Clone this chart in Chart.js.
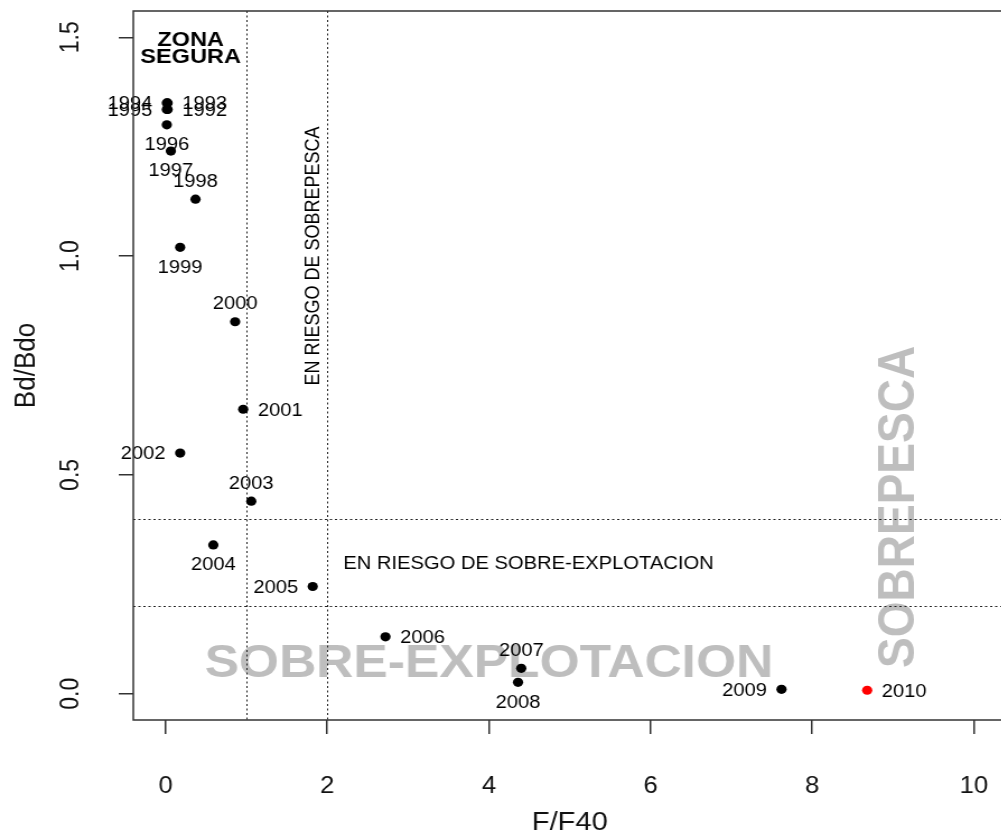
<!DOCTYPE html>
<html>
<head>
<meta charset="utf-8">
<script src="https://cdn.jsdelivr.net/npm/chart.js@4.4.1/dist/chart.umd.min.js"></script>
<style>
html,body{margin:0;padding:0;overflow:hidden;background:#fff;width:1001px;height:832px;}
#wrap{position:absolute;left:0;top:0;width:903px;height:832px;transform:scaleX(1.12);transform-origin:0 0;}
canvas{display:block;}
</style>
</head>
<body>
<div id="wrap"><canvas id="c" width="903" height="832"></canvas></div>
<script>
// ---- data ----
const years  = [1992, 1993, 1994, 1995, 1996, 1997, 1998, 1999, 2000, 2001, 2002, 2003, 2004, 2005, 2006, 2007, 2008, 2009, 2010];
const fRatio = [0.025, 0.025, 0.015, 0.015, 0.015, 0.065, 0.37, 0.18, 0.86, 0.96, 0.18, 1.06, 0.59, 1.82, 2.72, 4.40, 4.36, 7.62, 8.68];
const bRatio = [1.335, 1.350, 1.350, 1.335, 1.300, 1.240, 1.130, 1.020, 0.850, 0.650, 0.550, 0.440, 0.340, 0.245, 0.130, 0.058, 0.026, 0.010, 0.008];
// R text() "pos" codes: 1 below, 2 left, 3 above, 4 right
const labelPos = [4, 4, 2, 2, 1, 1, 3, 1, 3, 4, 2, 3, 1, 2, 4, 3, 1, 2, 4];
const xTicks = [0, 2, 4, 6, 8, 10];
const xTickLabels = ['0', '2', '4', '6', '8', '10'];
const yTicks = [0, 0.5, 1, 1.5];
const yTickLabels = ['0.0', '0.5', '1.0', '1.5'];
const fRefLines = [1, 2];
const bRefLines = [0.2, 0.4];
const xTitle = 'F/F40';
const yTitle = 'Bd/Bdo';
const currentYear = 2010;

const FONT = '"Liberation Sans", Arial, Helvetica, sans-serif';

function capText(ctx, txt, x, y, size, rot) {
  // draws text centred (both ways) on x,y using cap height
  ctx.save();
  ctx.translate(x, y);
  if (rot) ctx.rotate(rot);
  ctx.textAlign = 'center';
  ctx.textBaseline = 'alphabetic';
  ctx.fillText(txt, 0, 0.716 * size / 2);
  ctx.restore();
}

const rPlot = {
  id: 'rPlot',
  beforeDatasetsDraw(chart) {
    const {ctx, chartArea: a, scales: {x, y}} = chart;
    ctx.save();
    ctx.beginPath(); ctx.rect(a.left, a.top, a.width, a.height); ctx.clip();
    // large grey zone labels
    ctx.fillStyle = '#BEBEBE';
    ctx.font = `bold 46px ${FONT}`;
    capText(ctx, 'SOBRE-EXPLOTACION', x.getPixelForValue(4.0), y.getPixelForValue(0.076), 46);
    capText(ctx, 'SOBREPESCA', x.getPixelForValue(9.03), y.getPixelForValue(0.427), 46, -Math.PI / 2);
    // dotted reference lines
    ctx.strokeStyle = '#222';
    ctx.lineWidth = 1;
    ctx.setLineDash([2, 2.5]);
    fRefLines.forEach(v => {
      const px = Math.round(x.getPixelForValue(v)) + 0.5;
      ctx.beginPath(); ctx.moveTo(px, a.top); ctx.lineTo(px, a.bottom); ctx.stroke();
    });
    bRefLines.forEach(v => {
      const py = Math.round(y.getPixelForValue(v)) + 0.5;
      ctx.beginPath(); ctx.moveTo(a.left, py); ctx.lineTo(a.right, py); ctx.stroke();
    });
    ctx.restore();
  },
  afterDatasetsDraw(chart) {
    const {ctx, scales: {x, y}} = chart;
    ctx.save();
    ctx.fillStyle = '#000';
    // year labels
    const fs = 18;
    ctx.font = `${fs}px ${FONT}`;
    const meta = chart.getDatasetMeta(0);
    meta.data.forEach((pt, i) => {
      const t = String(years[i]);
      const p = labelPos[i];
      const h = 0.716 * fs / 2;
      ctx.textBaseline = 'alphabetic';
      if (p === 1) { ctx.textAlign = 'center'; ctx.fillText(t, pt.x, pt.y + 19 + h); }
      else if (p === 3) { ctx.textAlign = 'center'; ctx.fillText(t, pt.x, pt.y - 19 + h); }
      else if (p === 2) { ctx.textAlign = 'right'; ctx.fillText(t, pt.x - 13, pt.y + h); }
      else { ctx.textAlign = 'left'; ctx.fillText(t, pt.x + 13, pt.y + h); }
    });
    // zone annotations
    ctx.font = `bold 21px ${FONT}`;
    capText(ctx, 'ZONA', x.getPixelForValue(0.31), y.getPixelForValue(1.498), 21);
    capText(ctx, 'SEGURA', x.getPixelForValue(0.31), y.getPixelForValue(1.459), 21);
    ctx.font = `18px ${FONT}`;
    capText(ctx, 'EN RIESGO DE SOBREPESCA', x.getPixelForValue(1.81), y.getPixelForValue(1.0), 18, -Math.PI / 2);
    capText(ctx, 'EN RIESGO DE SOBRE-EXPLOTACION', x.getPixelForValue(4.49), y.getPixelForValue(0.3), 18);
    ctx.restore();
  },
  afterDraw(chart) {
    const {ctx, chartArea: a, scales: {x, y}} = chart;
    ctx.save();
    // box
    ctx.strokeStyle = '#333';
    ctx.lineWidth = 1.5;
    ctx.strokeRect(a.left, a.top, a.right - a.left, a.bottom - a.top);
    // tick labels
    ctx.fillStyle = '#111';
    const ts = 23;
    ctx.font = `${ts}px ${FONT}`;
    xTicks.forEach((v, i) => capText(ctx, xTickLabels[i], x.getPixelForValue(v), 785, ts));
    yTicks.forEach((v, i) => capText(ctx, yTickLabels[i], 61.6, y.getPixelForValue(v), ts, -Math.PI / 2));
    // axis titles
    const as = 26;
    ctx.font = `${as}px ${FONT}`;
    capText(ctx, xTitle, (a.left + a.right) / 2, 821, as);
    capText(ctx, yTitle, 21.4, (a.top + a.bottom) / 2, as, -Math.PI / 2);
    ctx.restore();
  }
};

new Chart(document.getElementById('c'), {
  type: 'scatter',
  data: {
    datasets: [{
      data: years.map((yr, i) => ({x: fRatio[i], y: bRatio[i]})),
      pointRadius: 4.6,
      pointHoverRadius: 4.6,
      pointBorderWidth: 0,
      pointBackgroundColor: c => (years[c.dataIndex] === currentYear ? '#FF0000' : '#000000'),
      pointBorderColor: c => (years[c.dataIndex] === currentYear ? '#FF0000' : '#000000')
    }]
  },
  options: {
    responsive: false,
    animation: false,
    events: [],
    layout: {padding: {top: 11, right: 0, left: 0, bottom: 0}},
    plugins: {legend: {display: false}, tooltip: {enabled: false}},
    scales: {
      x: {
        type: 'linear', min: -0.4, max: 10.4,
        afterBuildTicks: s => { s.ticks = xTicks.map(v => ({value: v})); },
        afterFit: s => { s.height = 112; },
        ticks: {display: false},
        grid: {drawOnChartArea: false, drawTicks: true, tickLength: 14, color: '#333', lineWidth: 1.5},
        border: {display: false}
      },
      y: {
        type: 'linear', min: -0.06, max: 1.56,
        afterBuildTicks: s => { s.ticks = yTicks.map(v => ({value: v})); },
        afterFit: s => { s.width = 119; },
        ticks: {display: false},
        grid: {drawOnChartArea: false, drawTicks: true, tickLength: 13, color: '#333', lineWidth: 1.5},
        border: {display: false}
      }
    }
  },
  plugins: [rPlot]
});
</script>
</body>
</html>
